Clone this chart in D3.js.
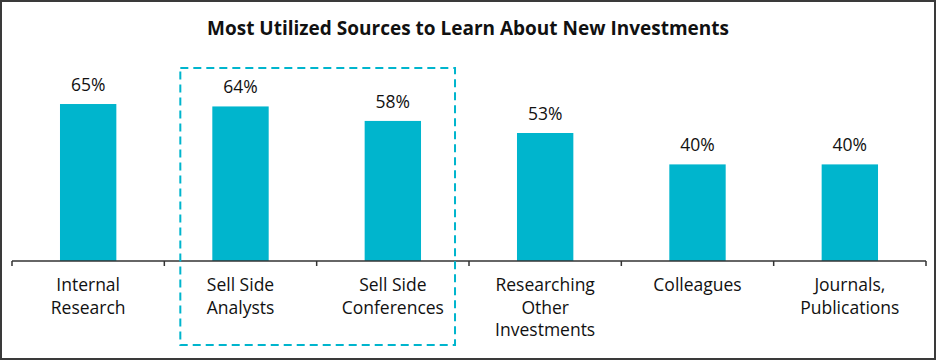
<!DOCTYPE html>
<html><head><meta charset="utf-8">
<script src="https://cdn.jsdelivr.net/npm/d3@7"></script>
<style>body{margin:0;background:#fff;}svg{display:block;}</style>
</head><body>
<svg id="chart" width="936" height="360"></svg>
<script>
const title = "Most Utilized Sources to Learn About New Investments";
const categories = ["Internal Research", "Sell Side Analysts", "Sell Side Conferences", "Researching Other Investments", "Colleagues", "Journals, Publications"];
const categoryLines = [["Internal", "Research"], ["Sell Side", "Analysts"], ["Sell Side", "Conferences"], ["Researching", "Other", "Investments"], ["Colleagues"], ["Journals,", "Publications"]];
const values = [65, 64, 58, 53, 40, 40];
const highlighted = ["Sell Side Analysts", "Sell Side Conferences"];

const W = 936, H = 360;
const svg = d3.select("#chart");
const font = "'Open Sans', sans-serif";
const color = "#00b5cd";

svg.append("rect").attr("x", 1).attr("y", 1).attr("width", W - 2).attr("height", H - 2)
  .attr("fill", "#fff").attr("stroke", "#3a3a3a").attr("stroke-width", 2);

const x = d3.scaleBand().domain(categories).range([12, 926]).paddingInner(0.63).paddingOuter(0.315);
const y = d3.scaleLinear().domain([0, 100]).range([261, 19.5]);

svg.append("text").attr("x", W / 2).attr("y", 35).attr("text-anchor", "middle")
  .attr("font-family", font).attr("font-weight", 700).attr("font-size", 19).attr("fill", "#111")
  .text(title);

// bars
svg.selectAll("rect.bar").data(categories).join("rect").attr("class", "bar")
  .attr("x", d => x(d)).attr("width", x.bandwidth())
  .attr("y", (d, i) => y(values[i])).attr("height", (d, i) => y(0) - y(values[i]))
  .attr("fill", color);

svg.selectAll("text.val").data(categories).join("text").attr("class", "val")
  .attr("x", d => x(d) + x.bandwidth() / 2).attr("y", (d, i) => y(values[i]) - 13)
  .attr("text-anchor", "middle").attr("font-family", font).attr("font-size", 17.5).attr("fill", "#111")
  .text((d, i) => values[i] + "%");

// axis line + ticks at band boundaries
svg.append("line").attr("x1", 12).attr("x2", 926).attr("y1", 261).attr("y2", 261)
  .attr("stroke", "#333").attr("stroke-width", 1.5);
const tickPos = d3.range(categories.length + 1).map(i => 12 + i * x.step());
svg.selectAll("line.tick").data(tickPos).join("line").attr("class", "tick")
  .attr("x1", d => d).attr("x2", d => d).attr("y1", 261).attr("y2", 266)
  .attr("stroke", "#333").attr("stroke-width", 1.5);

// category labels
const lab = svg.selectAll("text.cat").data(categories).join("text").attr("class", "cat")
  .attr("text-anchor", "middle").attr("font-family", font).attr("font-size", 17.5).attr("fill", "#111");
lab.each(function (d, i) {
  const t = d3.select(this);
  categoryLines[i].forEach((ln, j) => {
    t.append("tspan").attr("x", x(d) + x.bandwidth() / 2).attr("y", 291 + j * 22.5).text(ln);
  });
});

// highlight dashed box
const hx0 = x(highlighted[0]) - 32, hx1 = x(highlighted[1]) + x.bandwidth() + 34;
svg.append("rect").attr("x", hx0).attr("y", 68).attr("width", hx1 - hx0).attr("height", 277)
  .attr("fill", "none").attr("stroke", color).attr("stroke-width", 2).attr("stroke-dasharray", "8,5");
</script>
</body></html>
